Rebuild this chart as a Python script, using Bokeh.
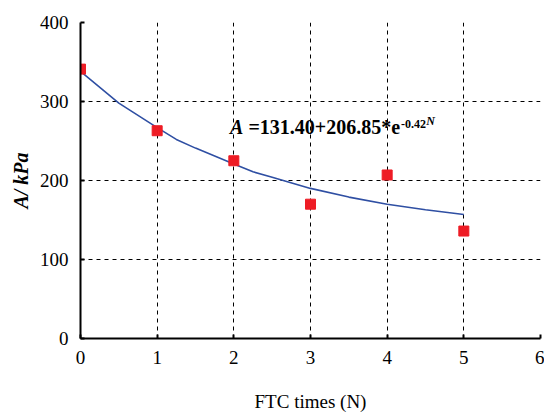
from bokeh.plotting import figure
from bokeh.embed import file_html
from bokeh.resources import INLINE
from bokeh.models import Range1d, FixedTicker, Label

# measured data
ftc_n = [0, 1, 2, 3, 4, 5]
a_kpa = [341, 263, 225, 170, 207, 136]

# fitted curve
fit_n = [0, 0.5, 1, 1.25, 1.5, 2, 2.25, 2.5, 3, 3.5, 4, 4.5, 5]
fit_a = [338, 298, 267, 252, 241, 221, 211, 204, 190, 179, 170, 163, 157]

x_ticks = [0, 1, 2, 3, 4, 5, 6]
y_ticks = [0, 100, 200, 300, 400]

FONT = "Liberation Serif"

p = figure(width=544, height=414, output_backend="svg", toolbar_location=None,
           x_range=Range1d(0, 6), y_range=Range1d(0, 400),
           min_border_left=80, min_border_right=4, min_border_top=22, min_border_bottom=70)
p.outline_line_color = None
p.background_fill_color = "white"
p.border_fill_color = "white"

for ax in (p.xaxis, p.yaxis):
    ax.axis_line_color = "black"
    ax.axis_line_width = 2
    ax.major_tick_line_color = "black"
    ax.major_tick_line_width = 2
    ax.major_tick_in = 4
    ax.major_tick_out = 0
    ax.minor_tick_line_color = None
    ax.major_label_text_font = FONT
    ax.major_label_text_font_size = "19px"
    ax.major_label_text_color = "black"
    ax.axis_label_text_color = "black"

p.xaxis.ticker = FixedTicker(ticks=x_ticks)
p.yaxis.ticker = FixedTicker(ticks=y_ticks)
p.xaxis.major_label_standoff = 12
p.yaxis.major_label_standoff = 12

p.xaxis.axis_label = "FTC times (N)"
p.xaxis.axis_label_text_font = FONT
p.xaxis.axis_label_text_font_size = "19px"
p.xaxis.axis_label_text_font_style = "normal"
p.xaxis.axis_label_standoff = 24

p.yaxis.axis_label = "A/ kPa"
p.yaxis.axis_label_text_font = FONT
p.yaxis.axis_label_text_font_size = "20px"
p.yaxis.axis_label_text_font_style = "bold italic"
p.yaxis.axis_label_standoff = 5

p.grid.grid_line_color = "black"
p.grid.grid_line_dash = "4 4"
p.grid.grid_line_width = 1
p.xgrid.ticker = FixedTicker(ticks=x_ticks[1:])
p.ygrid.ticker = FixedTicker(ticks=y_ticks[1:])

p.line(fit_n, fit_a, line_color="#2F4FA3", line_width=1.6)
p.scatter(ftc_n, a_kpa, marker="square", size=10, fill_color="#EE1C25",
          line_color="#EE1C25")

# equation
p.add_layout(Label(x=1.95, y=254, text="A", text_font=FONT, text_font_size="20px",
                   text_font_style="bold italic", text_color="black"))
p.add_layout(Label(x=2.19, y=254, text="=131.40+206.85*e", text_font=FONT,
                   text_font_size="20px", text_font_style="bold", text_color="black"))
p.add_layout(Label(x=4.18, y=266, text="-0.42", text_font=FONT,
                   text_font_size="12px", text_font_style="bold", text_color="black"))
p.add_layout(Label(x=4.51, y=266, text="N", text_font=FONT,
                   text_font_size="12px", text_font_style="bold italic", text_color="black"))

open("out.html", "w").write(file_html(p, INLINE))
